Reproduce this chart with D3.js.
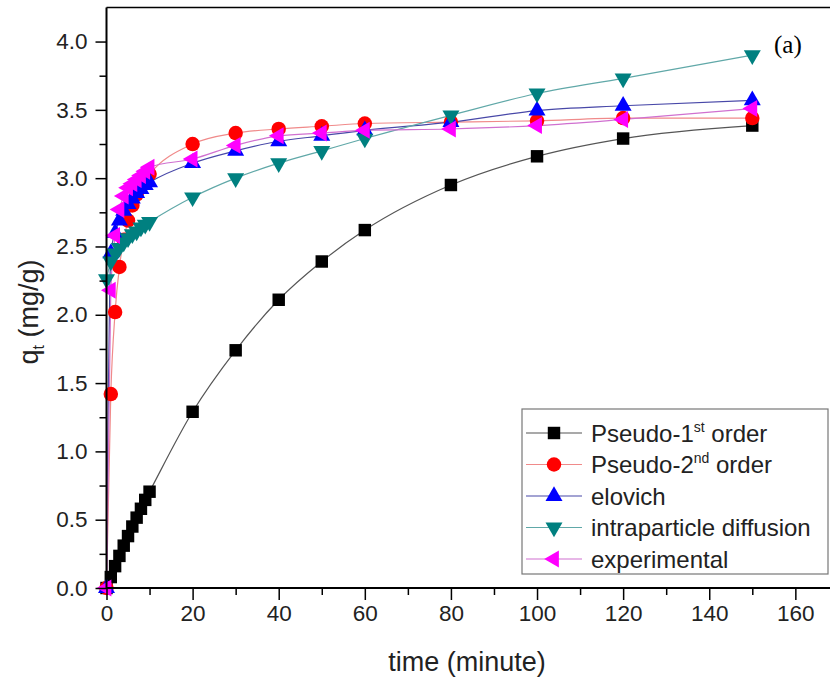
<!DOCTYPE html>
<html>
<head>
<meta charset="utf-8">
<script src="https://cdn.jsdelivr.net/npm/d3@7"></script>
<style>
  body { margin: 0; background: #fff; }
  text { font-family: "Liberation Sans", Arial, sans-serif; }
</style>
</head>
<body>
<div id="Container"></div>
<script>
// time points (minute)
var times = [0, 1, 2, 3, 4, 5, 6, 7, 8, 9, 10, 20, 30, 40, 50, 60, 80, 100, 120, 150];
// q_t values (mg/g)
var pfo   = [0, 0.08, 0.16, 0.235, 0.31, 0.38, 0.45, 0.515, 0.58, 0.645, 0.705, 1.29, 1.74, 2.11, 2.39, 2.62, 2.95, 3.16, 3.29, 3.385];
var pso   = [0, 1.42, 2.02, 2.35, 2.55, 2.69, 2.80, 2.88, 2.94, 2.99, 3.03, 3.25, 3.33, 3.36, 3.38, 3.40, 3.41, 3.42, 3.44, 3.44];
var elov  = [0, 2.45, 2.60, 2.69, 2.76, 2.81, 2.85, 2.89, 2.92, 2.95, 2.97, 3.11, 3.20, 3.27, 3.31, 3.35, 3.41, 3.495, 3.53, 3.57];
var intra = [2.26, 2.39, 2.45, 2.49, 2.53, 2.56, 2.59, 2.61, 2.64, 2.66, 2.68, 2.86, 3.00, 3.11, 3.20, 3.29, 3.46, 3.62, 3.73, 3.90];
var expt  = [0, 2.18, 2.58, 2.77, 2.87, 2.93, 2.96, 2.99, 3.02, 3.05, 3.08, 3.14, 3.24, 3.31, 3.33, 3.35, 3.36, 3.385, 3.43, 3.51];

var names = ["Pseudo-1", "Pseudo-2", "elovich", "intraparticle diffusion", "experimental"];
var sups  = ["st", "nd", "", "", ""];
var after = [" order", " order", "", "", ""];
var xTicks = [0, 20, 40, 60, 80, 100, 120, 140, 160];
var yTicks = [0, 0.5, 1.0, 1.5, 2.0, 2.5, 3.0, 3.5, 4.0];

var series = [
  { vals: pfo,   sym: d3.symbolSquare,   fill: "#000000", line: "#555555", size: 155, rot: 0 },
  { vals: pso,   sym: d3.symbolCircle,   fill: "#ff0000", line: "#f08a8a", size: 165, rot: 0 },
  { vals: elov,  sym: d3.symbolTriangle, fill: "#0000ff", line: "#4848a8", size: 125, rot: 0 },
  { vals: intra, sym: d3.symbolTriangle, fill: "#008080", line: "#60a8a8", size: 125, rot: 180 },
  { vals: expt,  sym: d3.symbolTriangle, fill: "#ff00ff", line: "#d070d0", size: 125, rot: -90 }
];

var W = 830, H = 680;
var canvas = d3.select("#Container").append("svg")
    .attr("width", W)
    .attr("height", H);

var x = d3.scaleLinear().domain([0, 170]).range([106.5, 838.4]);
var y = d3.scaleLinear().domain([0, 4.25]).range([588, 7.4]);

// frame top
canvas.append("line")
    .attr("x1", x(0)).attr("x2", W)
    .attr("y1", y(4.25)).attr("y2", y(4.25))
    .attr("stroke", "#000").attr("stroke-width", 1.5);

// data lines + markers
var lineGen = d3.line()
    .x(function(d) { return x(d[0]); })
    .y(function(d) { return y(d[1]); })
    .curve(d3.curveMonotoneX);

series.forEach(function(s) {
  var pts = times.map(function(t, i) { return [t, s.vals[i]]; });
  canvas.append("path")
      .datum(pts)
      .attr("d", lineGen)
      .attr("fill", "none")
      .attr("stroke", s.line)
      .attr("stroke-width", 1.2);
});

series.forEach(function(s) {
  var pts = times.map(function(t, i) { return [t, s.vals[i]]; });
  canvas.selectAll(null)
      .data(pts)
      .enter()
      .append("path")
      .attr("d", d3.symbol().type(s.sym).size(s.size))
      .attr("transform", function(d) {
        return "translate(" + x(d[0]) + "," + y(d[1]) + ") rotate(" + s.rot + ")";
      })
      .attr("fill", s.fill);
});

// axes
var xAxis = canvas.append("g")
    .attr("transform", "translate(0," + y(0) + ")")
    .call(d3.axisBottom(x).tickValues(xTicks).tickSize(12).tickPadding(5).tickFormat(d3.format("d")));
canvas.append("g")
    .attr("transform", "translate(0," + y(0) + ")")
    .call(d3.axisBottom(x).tickValues(d3.range(10, 160, 20)).tickSize(7).tickFormat(""))
    .select(".domain").remove();

var yAxis = canvas.append("g")
    .attr("transform", "translate(" + x(0) + ",0)")
    .call(d3.axisLeft(y).tickValues(yTicks).tickSize(11).tickPadding(8).tickFormat(d3.format(".1f")));
canvas.append("g")
    .attr("transform", "translate(" + x(0) + ",0)")
    .call(d3.axisLeft(y).tickValues(d3.range(0.25, 4.25, 0.5)).tickSize(7).tickFormat(""))
    .select(".domain").remove();

xAxis.select(".domain").remove();
yAxis.select(".domain").remove();
canvas.append("line")
    .attr("x1", x(0)).attr("x2", W)
    .attr("y1", y(0)).attr("y2", y(0))
    .attr("stroke", "#000").attr("stroke-width", 2);
canvas.append("line")
    .attr("x1", x(0)).attr("x2", x(0))
    .attr("y1", y(0) + 1).attr("y2", y(4.25))
    .attr("stroke", "#000").attr("stroke-width", 2);

canvas.selectAll(".tick line").attr("stroke-width", 1.5);
canvas.selectAll(".tick text")
    .attr("font-size", 22.5)
    .attr("fill", "#222")
    .style("font-family", "Liberation Sans, Arial, sans-serif");

// axis titles
canvas.append("text")
    .attr("x", 467).attr("y", 671)
    .attr("text-anchor", "middle")
    .attr("font-size", 27)
    .attr("fill", "#222")
    .text("time (minute)");

var yt = canvas.append("text")
    .attr("transform", "translate(38,312) rotate(-90)")
    .attr("text-anchor", "middle")
    .attr("font-size", 27)
    .attr("fill", "#222");
yt.append("tspan").text("q");
yt.append("tspan").attr("font-size", 16).attr("dy", 6).text("t");
yt.append("tspan").attr("dy", -6).text(" (mg/g)");

canvas.append("text")
    .attr("x", 774).attr("y", 53)
    .attr("font-size", 25)
    .style("font-family", "Liberation Serif, Times New Roman, serif")
    .text("(a)");

// legend
canvas.append("rect")
    .attr("x", 522).attr("y", 409)
    .attr("width", 306).attr("height", 165)
    .attr("fill", "#fff")
    .attr("stroke", "#777")
    .attr("stroke-width", 1.2);

series.forEach(function(s, i) {
  var ly = 433 + i * 31.5;
  canvas.append("line")
      .attr("x1", 526).attr("x2", 582)
      .attr("y1", ly).attr("y2", ly)
      .attr("stroke", s.line).attr("stroke-width", 1.2);
  canvas.append("path")
      .attr("d", d3.symbol().type(s.sym).size(s.size))
      .attr("transform", "translate(554," + ly + ") rotate(" + s.rot + ")")
      .attr("fill", s.fill);
  var t = canvas.append("text")
      .attr("x", 591).attr("y", ly + 8.5)
      .attr("font-size", 24)
      .attr("fill", "#222");
  t.append("tspan").text(names[i]);
  if (sups[i]) {
    t.append("tspan").attr("font-size", 14).attr("dy", -10).text(sups[i]);
    t.append("tspan").attr("dy", 10).text(after[i]);
  }
});
</script>
</body>
</html>
